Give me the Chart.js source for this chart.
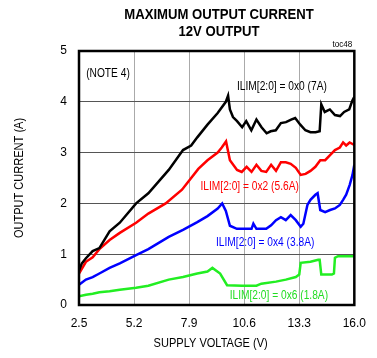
<!DOCTYPE html>
<html>
<head>
<meta charset="utf-8">
<script src="https://cdn.jsdelivr.net/npm/chart.js@4/dist/chart.umd.min.js"></script>
<style>
  html, body { margin: 0; padding: 0; background: #fff; }
  #wrap { width: 377px; height: 358px; }
</style>
</head>
<body>
<div id="wrap"><canvas id="myChart" width="377" height="358"></canvas></div>
<script>
var FONT = "'Liberation Sans', Arial, sans-serif";

// x tick labels (supply voltage, V)
var xTicks = [2.5, 5.2, 7.9, 10.6, 13.3, 16.0];
var yTicks = [0, 1, 2, 3, 4, 5];

// ILIM = 0x0 (7A)
var volts7 = [2.5, 2.64, 2.84, 3.17, 3.5, 4.0, 4.5, 5.3, 5.9, 6.9, 7.6, 8.0, 8.3, 8.8, 9.3, 9.7, 9.81, 9.9, 10.05, 10.25, 10.5, 10.7, 10.95, 11.2, 11.45, 11.7, 11.9, 12.15, 12.4, 12.65, 12.9, 13.1, 13.35, 13.6, 13.85, 14.1, 14.3, 14.38, 14.55, 14.8, 15.05, 15.3, 15.5, 15.75, 15.9, 16.0];
var amps7 = [0.68, 0.82, 0.92, 1.06, 1.12, 1.45, 1.62, 2.0, 2.2, 2.66, 3.05, 3.14, 3.3, 3.55, 3.78, 4.0, 4.12, 3.85, 3.7, 3.62, 3.5, 3.62, 3.44, 3.65, 3.5, 3.38, 3.42, 3.44, 3.58, 3.6, 3.65, 3.68, 3.55, 3.44, 3.4, 3.4, 3.42, 3.95, 3.8, 3.85, 3.74, 3.72, 3.8, 3.85, 4.02, 4.1];

// ILIM = 0x2 (5.6A)
var volts56 = [2.5, 2.84, 3.17, 3.5, 4.0, 4.5, 5.3, 5.9, 6.75, 7.55, 8.35, 8.8, 9.3, 9.5, 9.71, 9.9, 10.25, 10.48, 10.72, 10.96, 11.2, 11.44, 11.68, 11.92, 12.16, 12.4, 12.64, 12.88, 13.13, 13.37, 13.61, 13.85, 14.09, 14.33, 14.57, 14.81, 15.05, 15.29, 15.45, 15.6, 15.77, 16.0];
var amps56 = [0.62, 0.85, 0.94, 1.1, 1.28, 1.42, 1.62, 1.8, 2.0, 2.27, 2.68, 2.85, 3.0, 3.1, 3.22, 2.85, 2.66, 2.62, 2.72, 2.62, 2.76, 2.64, 2.62, 2.76, 2.64, 2.81, 2.81, 2.78, 2.7, 2.56, 2.58, 2.64, 2.72, 2.85, 2.85, 2.95, 3.05, 3.1, 3.2, 3.14, 3.2, 3.15];

// ILIM = 0x4 (3.8A)
var volts38 = [2.5, 2.84, 3.17, 3.5, 4.0, 4.5, 5.3, 5.9, 6.9, 7.6, 8.3, 8.8, 9.3, 9.52, 9.7, 9.9, 10.24, 10.5, 10.96, 11.05, 11.2, 11.68, 11.92, 12.16, 12.4, 12.64, 12.88, 13.13, 13.37, 13.5, 13.7, 13.85, 14.09, 14.2, 14.33, 14.57, 14.81, 15.05, 15.29, 15.45, 15.6, 15.77, 15.91, 16.0];
var amps38 = [0.4, 0.5, 0.55, 0.62, 0.73, 0.82, 0.98, 1.1, 1.34, 1.48, 1.63, 1.75, 1.9, 2.0, 1.85, 1.56, 1.5, 1.5, 1.5, 1.6, 1.5, 1.5, 1.57, 1.67, 1.73, 1.67, 1.77, 1.67, 1.54, 1.6, 1.97, 2.07, 2.17, 2.2, 1.87, 1.83, 1.87, 1.9, 1.97, 2.07, 2.17, 2.36, 2.56, 2.76];

// ILIM = 0x6 (1.8A)
var volts18 = [2.5, 2.84, 3.17, 3.5, 4.0, 4.5, 5.3, 5.9, 6.9, 7.6, 8.3, 8.8, 9.04, 9.42, 9.76, 10.5, 11.2, 11.44, 12.16, 12.64, 13.13, 13.3, 13.37, 13.85, 14.23, 14.3, 14.38, 14.9, 15.0, 15.05, 15.2, 16.0];
var amps18 = [0.17, 0.2, 0.22, 0.25, 0.27, 0.3, 0.34, 0.38, 0.5, 0.55, 0.62, 0.66, 0.73, 0.62, 0.39, 0.38, 0.38, 0.42, 0.46, 0.5, 0.55, 0.6, 0.83, 0.85, 0.89, 0.89, 0.6, 0.6, 0.62, 0.93, 0.96, 0.96];

function pts(xs, ys) {
  var out = [];
  for (var i = 0; i < xs.length; i++) out.push({x: xs[i], y: ys[i]});
  return out;
}

// text labels placed in data units
var notes = [
  {text: '(NOTE 4)', x: 2.85, y: 4.55, color: '#000', align: 'left'},
  {text: 'ILIM[2:0] = 0x0 (7A)', x: 12.45, y: 4.3, color: '#000', align: 'center'},
  {text: 'ILIM[2:0] = 0x2 (5.6A)', x: 10.87, y: 2.32, color: '#ff0000', align: 'center'},
  {text: 'ILIM[2:0] = 0x4 (3.8A)', x: 11.63, y: 1.22, color: '#0000ff', align: 'center'},
  {text: 'ILIM[2:0] = 0x6 (1.8A)', x: 12.3, y: 0.18, color: '#22dd22', align: 'center'}
];

// narrow text: the original uses a condensed face
function narrowText(ctx, text, x, y, sx) {
  ctx.save();
  ctx.translate(x, y);
  ctx.scale(sx, 1);
  ctx.fillText(text, 0, 0);
  ctx.restore();
}

var extras = {
  id: 'extras',
  afterDraw: function(chart) {
    var ctx = chart.ctx;
    var xs = chart.scales.x, ys = chart.scales.y;
    var a = chart.chartArea;
    ctx.save();
    // title
    ctx.fillStyle = '#000';
    ctx.textAlign = 'center';
    ctx.textBaseline = 'middle';
    ctx.font = 'bold 15px ' + FONT;
    narrowText(ctx, 'MAXIMUM OUTPUT CURRENT', 219, 15, 0.875);
    narrowText(ctx, '12V OUTPUT', 219, 32, 0.875);
    ctx.font = '9px ' + FONT;
    ctx.textAlign = 'right';
    narrowText(ctx, 'toc48', a.right - 2, 45, 0.9);
    // notes
    ctx.font = '12px ' + FONT;
    notes.forEach(function(n) {
      ctx.fillStyle = n.color;
      ctx.textAlign = n.align;
      narrowText(ctx, n.text, xs.getPixelForValue(n.x), ys.getPixelForValue(n.y), 0.85);
    });
    // axis titles
    ctx.fillStyle = '#000';
    ctx.textAlign = 'center';
    ctx.font = '12px ' + FONT;
    narrowText(ctx, 'SUPPLY VOLTAGE (V)', (a.left + a.right) / 2 - 6, 344, 0.92);
    ctx.save();
    ctx.translate(20, (a.top + a.bottom) / 2);
    ctx.rotate(-Math.PI / 2);
    narrowText(ctx, 'OUTPUT CURRENT (A)', 0, 0, 0.92);
    ctx.restore();
    // frame
    ctx.strokeStyle = '#000';
    ctx.lineWidth = 2.5;
    ctx.strokeRect(a.left, a.top, a.right - a.left, a.bottom - a.top);
    ctx.restore();
  }
};

var ctx = document.getElementById('myChart').getContext('2d');
var myChart = new Chart(ctx, {
  type: 'line',
  data: {
    datasets: [
      {label: '0x0', data: pts(volts7, amps7), borderColor: '#000000'},
      {label: '0x2', data: pts(volts56, amps56), borderColor: '#ff0000'},
      {label: '0x4', data: pts(volts38, amps38), borderColor: '#0000ff'},
      {label: '0x6', data: pts(volts18, amps18), borderColor: '#22ee22'}
    ]
  },
  options: {
    responsive: false,
    animation: false,
    layout: { padding: { top: 51, right: 17, left: 0, bottom: 0 } },
    elements: {
      point: { radius: 0 },
      line: { borderWidth: 2.5, tension: 0 }
    },
    plugins: {
      legend: { display: false },
      tooltip: { enabled: false }
    },
    scales: {
      x: {
        type: 'linear',
        min: 2.5,
        max: 16.0,
        afterBuildTicks: function(axis) {
          axis.ticks = xTicks.map(function(v) { return {value: v}; });
        },
        afterFit: function(axis) { axis.height = 53; },
        grid: { color: '#aaaaaa', lineWidth: 1, drawTicks: false },
        border: { display: false },
        ticks: {
          padding: 11,
          color: '#000',
          font: { family: FONT, size: 12 },
          maxRotation: 0,
          callback: function(v) { return v.toFixed(1); }
        }
      },
      y: {
        min: 0,
        max: 5,
        afterBuildTicks: function(axis) {
          axis.ticks = yTicks.map(function(v) { return {value: v}; });
        },
        afterFit: function(axis) { axis.width = 79; },
        grid: { color: '#555555', lineWidth: 1, drawTicks: false },
        border: { display: false },
        ticks: {
          padding: 12,
          color: '#000',
          font: { family: FONT, size: 12 }
        }
      }
    }
  },
  plugins: [extras]
});
</script>
</body>
</html>
